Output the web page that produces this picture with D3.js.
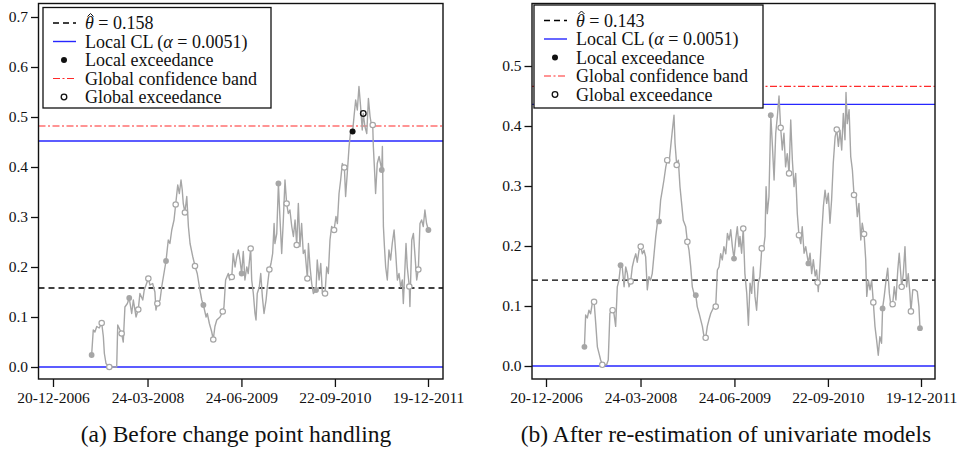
<!DOCTYPE html>
<html>
<head>
<meta charset="utf-8">
<script src="https://cdn.jsdelivr.net/npm/d3@7"></script>
<style>
  html, body { margin: 0; padding: 0; background: #fff; }
  svg { display: block; }
  text { font-family: "Liberation Serif", "Times New Roman", serif; fill: #111; }
</style>
</head>
<body>
<svg id="chart" width="957" height="449" font-family="Liberation Serif"></svg>
<script>
// ---------------- DATA ----------------
const startDate = "2006-12-20";
const tickDates = ["2006-12-20", "2008-03-24", "2009-06-24", "2010-09-22", "2011-12-19"];
const tickLabels = ["20-12-2006", "24-03-2008", "24-06-2009", "22-09-2010", "19-12-2011"];

// Panel (a): days since 20-12-2006 and values
const leftDays = [188,196,204,213,225,237,245,250,258,274,302,310,315,326,334,342,350,362,371,383,391,404,415,423,437,444,464,472,485,496,501,508,521,529,537,550,561,569,578,589,597,607,615,623,629,634,642,651,659,667,680,691,702,715,724,732,745,751,761,772,780,788,797,813,826,832,840,853,861,870,877,886,894,902,910,918,926,934,943,950,962,967,975,983,988,994,1004,1011,1019,1027,1037,1043,1053,1061,1069,1076,1080,1089,1097,1105,1113,1121,1129,1137,1145,1153,1162,1170,1178,1186,1194,1202,1210,1218,1226,1238,1243,1251,1259,1267,1280,1286,1295,1303,1311,1324,1332,1340,1348,1356,1368,1377,1384,1392,1400,1408,1418,1424,1432,1441,1449,1458,1465,1473,1481,1489,1497,1505,1510,1518,1527,1535,1543,1551,1556,1559,1564,1570,1578,1587,1600,1603,1608,1613,1619,1627,1635,1643,1651,1660,1668,1676,1684,1692,1700,1705,1713,1718,1724,1734,1737,1746,1754,1762,1770,1778,1786,1794,1802,1810,1818,1827];
const leftValues = [0.024,0.074,0.07,0.081,0.078,0.088,0.061,0.027,0.007,0.0,0.0,0.0,0.084,0.074,0.067,0.05,0.12,0.127,0.138,0.107,0.134,0.1,0.115,0.147,0.134,0.154,0.177,0.164,0.167,0.15,0.114,0.127,0.134,0.16,0.18,0.212,0.254,0.247,0.274,0.294,0.325,0.364,0.347,0.374,0.354,0.327,0.309,0.341,0.281,0.247,0.221,0.202,0.187,0.154,0.134,0.124,0.1,0.107,0.087,0.071,0.055,0.081,0.094,0.1,0.111,0.12,0.174,0.187,0.174,0.18,0.227,0.2,0.22,0.234,0.214,0.187,0.231,0.174,0.2,0.187,0.237,0.174,0.147,0.107,0.094,0.147,0.16,0.187,0.14,0.107,0.134,0.16,0.195,0.207,0.227,0.287,0.247,0.267,0.367,0.294,0.227,0.294,0.374,0.327,0.307,0.314,0.281,0.261,0.294,0.244,0.327,0.241,0.287,0.227,0.234,0.177,0.247,0.2,0.167,0.147,0.154,0.214,0.174,0.207,0.147,0.147,0.2,0.187,0.254,0.281,0.274,0.301,0.287,0.347,0.374,0.407,0.399,0.341,0.387,0.441,0.474,0.471,0.501,0.534,0.514,0.561,0.521,0.474,0.507,0.481,0.467,0.537,0.501,0.481,0.484,0.441,0.401,0.347,0.407,0.421,0.394,0.441,0.281,0.241,0.2,0.174,0.234,0.214,0.247,0.274,0.227,0.174,0.187,0.16,0.174,0.127,0.2,0.247,0.2,0.161,0.121,0.254,0.267,0.221,0.174,0.195,0.287,0.294,0.281,0.314,0.287,0.274];
const leftGrayFilled = [188,371,550,732,918,1097,1280,1600,1827];
const leftGrayOpen = [237,274,334,415,464,508,597,642,691,780,826,870,962,1053,1137,1186,1238,1324,1368,1418,1556,1734,1778];
const leftLocalExceed = [1458];
const leftGlobalExceed = [1510];
const leftTheta = 0.158, leftLocalCL = 0.452, leftLocalLow = 0.0, leftGlobal = 0.482;
const leftYTicks = [0.0,0.1,0.2,0.3,0.4,0.5,0.6,0.7];

// Panel (b)
const rightDays = [187,193,201,209,217,225,234,242,250,258,266,274,295,303,311,324,331,339,347,355,363,371,380,388,396,404,412,420,428,437,444,453,461,469,477,485,493,501,509,517,526,534,542,550,558,566,574,583,590,599,607,615,623,628,636,644,652,660,668,680,688,696,704,712,720,729,736,745,753,761,769,777,785,793,802,809,818,826,834,842,850,858,866,875,883,891,899,907,915,923,931,939,944,952,960,968,977,985,993,1001,1009,1017,1025,1033,1041,1050,1058,1066,1071,1077,1085,1094,1102,1110,1118,1126,1134,1142,1150,1158,1166,1174,1183,1191,1199,1207,1215,1223,1231,1240,1247,1256,1264,1277,1285,1293,1301,1310,1317,1322,1325,1333,1342,1350,1358,1366,1374,1382,1390,1398,1407,1415,1423,1431,1439,1447,1455,1460,1466,1475,1483,1491,1499,1507,1515,1523,1532,1539,1548,1556,1561,1569,1577,1585,1593,1601,1609,1617,1625,1633,1638,1646,1655,1663,1671,1679,1687,1695,1703,1712,1719,1731,1739,1747,1755,1763,1771,1776,1785,1796,1807,1815,1820];
const rightValues = [0.032,0.085,0.08,0.093,0.087,0.104,0.107,0.071,0.032,0.021,0.01,0.002,0.002,0.01,0.088,0.093,0.087,0.066,0.132,0.143,0.168,0.165,0.132,0.165,0.154,0.132,0.141,0.165,0.177,0.187,0.173,0.193,0.199,0.187,0.193,0.182,0.127,0.149,0.143,0.154,0.187,0.216,0.238,0.241,0.277,0.293,0.31,0.332,0.343,0.338,0.366,0.393,0.418,0.371,0.335,0.343,0.299,0.271,0.243,0.232,0.207,0.193,0.166,0.132,0.121,0.118,0.099,0.088,0.077,0.066,0.049,0.047,0.066,0.077,0.088,0.093,0.099,0.099,0.16,0.165,0.187,0.177,0.199,0.187,0.221,0.21,0.227,0.199,0.179,0.21,0.232,0.199,0.216,0.188,0.229,0.154,0.121,0.068,0.138,0.121,0.165,0.116,0.093,0.138,0.149,0.196,0.193,0.216,0.299,0.254,0.282,0.418,0.366,0.31,0.388,0.416,0.45,0.397,0.36,0.388,0.332,0.354,0.321,0.41,0.343,0.299,0.321,0.254,0.218,0.204,0.232,0.188,0.199,0.171,0.188,0.154,0.177,0.15,0.16,0.139,0.124,0.165,0.221,0.266,0.293,0.271,0.288,0.238,0.277,0.338,0.382,0.394,0.366,0.393,0.36,0.421,0.377,0.456,0.404,0.427,0.349,0.327,0.285,0.288,0.249,0.271,0.21,0.238,0.22,0.177,0.116,0.143,0.127,0.143,0.106,0.066,0.043,0.018,0.049,0.038,0.096,0.116,0.143,0.163,0.121,0.099,0.103,0.132,0.11,0.16,0.188,0.132,0.154,0.199,0.132,0.154,0.121,0.091,0.127,0.127,0.124,0.099,0.063];
const rightGrayFilled = [187,363,550,729,915,1094,1277,1638,1820];
const rightGrayOpen = [234,274,324,412,461,590,636,688,777,826,960,1050,1142,1183,1231,1322,1415,1499,1548,1593,1687,1731,1776];
const rightLocalExceed = [];
const rightGlobalExceed = [];
const rightTheta = 0.143, rightLocalCL = 0.436, rightLocalLow = 0.0, rightGlobal = 0.466;
const rightYTicks = [0.0,0.1,0.2,0.3,0.4,0.5];

const legendThetaLabels = ["0.158", "0.143"];
const legendAlpha = "0.0051";
const captions = ["(a) Before change point handling", "(b) After re-estimation of univariate models"];

// ---------------- DRAW ----------------
const svg = d3.select("#chart");
const parse = d3.utcParse("%Y-%m-%d");
const t0 = parse(startDate);
const toDate = d => d3.utcDay.offset(t0, d);
const FONT = '"Liberation Serif", "Times New Roman", serif';

const panels = [
  { days: leftDays, values: leftValues, grayFilled: leftGrayFilled, grayOpen: leftGrayOpen,
    localEx: leftLocalExceed, globalEx: leftGlobalExceed,
    theta: leftTheta, cl: leftLocalCL, low: leftLocalLow, glob: leftGlobal, yTicks: leftYTicks,
    thetaLabel: legendThetaLabels[0], caption: captions[0],
    box: {x0: 38.5, x1: 443, y0: 3.5, y1: 379},
    xr: [53, 428], yd: [0, 0.7], yr: [367, 17],
    leg: {x: 43, y: 7.5, w: 228, h: 100.5}, capX: 236 },
  { days: rightDays, values: rightValues, grayFilled: rightGrayFilled, grayOpen: rightGrayOpen,
    localEx: rightLocalExceed, globalEx: rightGlobalExceed,
    theta: rightTheta, cl: rightLocalCL, low: rightLocalLow, glob: rightGlobal, yTicks: rightYTicks,
    thetaLabel: legendThetaLabels[1], caption: captions[1],
    box: {x0: 532, x1: 935, y0: 3.5, y1: 379},
    xr: [546, 921], yd: [0, 0.5], yr: [366, 66],
    leg: {x: 534, y: 5, w: 229, h: 103}, capX: 726 }
];

const GRAY = "#a6a6a6", BLUE = "#2626ff", RED = "#ff2a2a";

panels.forEach(p => {
  const g = svg.append("g");
  const x = d3.scaleUtc().domain([parse(tickDates[0]), parse(tickDates[tickDates.length-1])]).range(p.xr);
  const y = d3.scaleLinear().domain(p.yd).range(p.yr);
  const valAt = d => p.values[p.days.indexOf(d)];

  const clipId = "clip" + p.xr[0];
  svg.append("clipPath").attr("id", clipId).append("rect")
    .attr("x", p.box.x0).attr("y", p.box.y0).attr("width", p.box.x1 - p.box.x0).attr("height", p.box.y1 - p.box.y0);
  const inner = g.append("g").attr("clip-path", `url(#${clipId})`);

  const hline = (v, color, dash, w) => inner.append("line")
    .attr("x1", p.box.x0).attr("x2", p.box.x1).attr("y1", y(v)).attr("y2", y(v))
    .attr("stroke", color).attr("stroke-width", w).attr("stroke-dasharray", dash);
  hline(p.theta, "#000", "6,4", 1.3);
  hline(p.cl, BLUE, null, 1.4);
  hline(p.low, BLUE, null, 1.6);
  hline(p.glob, RED, "7,2.5,2,2.5", 1.2);

  const line = d3.line().x((d, i) => x(toDate(p.days[i]))).y(d => y(d));
  inner.append("path").datum(p.values).attr("d", line)
    .attr("fill", "none").attr("stroke", GRAY).attr("stroke-width", 1.4).attr("stroke-linejoin", "round");

  inner.selectAll(".gf").data(p.grayFilled).enter().append("circle")
    .attr("cx", d => x(toDate(d))).attr("cy", d => y(valAt(d))).attr("r", 2.9).attr("fill", GRAY);
  inner.selectAll(".go").data(p.grayOpen).enter().append("circle")
    .attr("cx", d => x(toDate(d))).attr("cy", d => y(valAt(d))).attr("r", 2.7)
    .attr("fill", "#fff").attr("stroke", GRAY).attr("stroke-width", 1.2);
  inner.selectAll(".lf").data(p.localEx).enter().append("circle")
    .attr("cx", d => x(toDate(d))).attr("cy", d => y(valAt(d))).attr("r", 3).attr("fill", "#111");
  inner.selectAll(".ge").data(p.globalEx).enter().append("circle")
    .attr("cx", d => x(toDate(d))).attr("cy", d => y(valAt(d))).attr("r", 2.8)
    .attr("fill", "none").attr("stroke", "#111").attr("stroke-width", 1.3);

  g.append("rect").attr("x", p.box.x0).attr("y", p.box.y0)
    .attr("width", p.box.x1 - p.box.x0).attr("height", p.box.y1 - p.box.y0)
    .attr("fill", "none").attr("stroke", "#111").attr("stroke-width", 1.4);

  const yAxis = d3.axisLeft(y).tickValues(p.yTicks).tickFormat(d3.format(".1f")).tickSize(7.5).tickPadding(3);
  const ya = g.append("g").attr("transform", `translate(${p.box.x0},0)`).call(yAxis).attr("font-family", FONT);
  ya.select(".domain").remove();
  ya.selectAll("line").attr("stroke", "#111").attr("stroke-width", 1.3);
  ya.selectAll("text").style("font-family", FONT).style("font-size", "15.5px").attr("fill", "#111");

  const xAxis = d3.axisBottom(x).tickValues(tickDates.map(parse))
    .tickFormat((d, i) => tickLabels[i]).tickSize(8).tickPadding(5);
  const xa = g.append("g").attr("transform", `translate(0,${p.box.y1})`).call(xAxis).attr("font-family", FONT);
  xa.select(".domain").remove();
  xa.selectAll("line").attr("stroke", "#111").attr("stroke-width", 1.3);
  xa.selectAll("text").style("font-family", FONT).style("font-size", "15.5px").attr("fill", "#111");

  g.append("text").attr("x", p.capX).attr("y", 442).attr("text-anchor", "middle")
    .style("font-family", FONT).style("font-size", "23.5px").text(p.caption);

  // legend
  const L = p.leg;
  const lg = g.append("g");
  lg.append("rect").attr("x", L.x).attr("y", L.y).attr("width", L.w).attr("height", L.h)
    .attr("fill", "#fff").attr("stroke", "#111").attr("stroke-width", 1.3);
  const rowY = [L.y + 15.5, L.y + 34, L.y + 52.5, L.y + 71, L.y + 89.5];
  const sx0 = L.x + 10, sx1 = L.x + 33, sc = L.x + 21, tx = L.x + 42;
  const fs = "18px";
  lg.append("line").attr("x1", sx0).attr("x2", sx1).attr("y1", rowY[0]).attr("y2", rowY[0])
    .attr("stroke", "#000").attr("stroke-width", 1.3).attr("stroke-dasharray", "6,4");
  const t1 = lg.append("text").attr("x", tx).attr("y", rowY[0] + 6).style("font-family", FONT).style("font-size", fs);
  t1.append("tspan").style("font-style", "italic").text("θ");
  t1.append("tspan").text(" = " + p.thetaLabel);
  // circumflex accent over theta drawn as a small mark
  const hx = tx + 5.5, hy = rowY[0] - 9;
  lg.append("path").attr("d", `M${hx - 3},${hy + 2.5} L${hx},${hy - 0.5} L${hx + 3},${hy + 2.5}`)
    .attr("fill", "none").attr("stroke", "#111").attr("stroke-width", 1);
  lg.append("line").attr("x1", sx0).attr("x2", sx1).attr("y1", rowY[1]).attr("y2", rowY[1])
    .attr("stroke", BLUE).attr("stroke-width", 1.4);
  const t2 = lg.append("text").attr("x", tx).attr("y", rowY[1] + 6).style("font-family", FONT).style("font-size", fs);
  t2.append("tspan").text("Local CL (");
  t2.append("tspan").style("font-style", "italic").text("α");
  t2.append("tspan").text(" = " + legendAlpha + ")");
  lg.append("circle").attr("cx", sc).attr("cy", rowY[2]).attr("r", 3).attr("fill", "#111");
  lg.append("text").attr("x", tx).attr("y", rowY[2] + 6).style("font-family", FONT).style("font-size", fs).text("Local exceedance");
  lg.append("line").attr("x1", sx0).attr("x2", sx1).attr("y1", rowY[3]).attr("y2", rowY[3])
    .attr("stroke", RED).attr("stroke-width", 1.2).attr("stroke-dasharray", "7,2.5,2,2.5");
  lg.append("text").attr("x", tx).attr("y", rowY[3] + 6).style("font-family", FONT).style("font-size", fs).text("Global confidence band");
  lg.append("circle").attr("cx", sc).attr("cy", rowY[4]).attr("r", 2.8)
    .attr("fill", "none").attr("stroke", "#111").attr("stroke-width", 1.3);
  lg.append("text").attr("x", tx).attr("y", rowY[4] + 6).style("font-family", FONT).style("font-size", fs).text("Global exceedance");
});
</script>
</body>
</html>
